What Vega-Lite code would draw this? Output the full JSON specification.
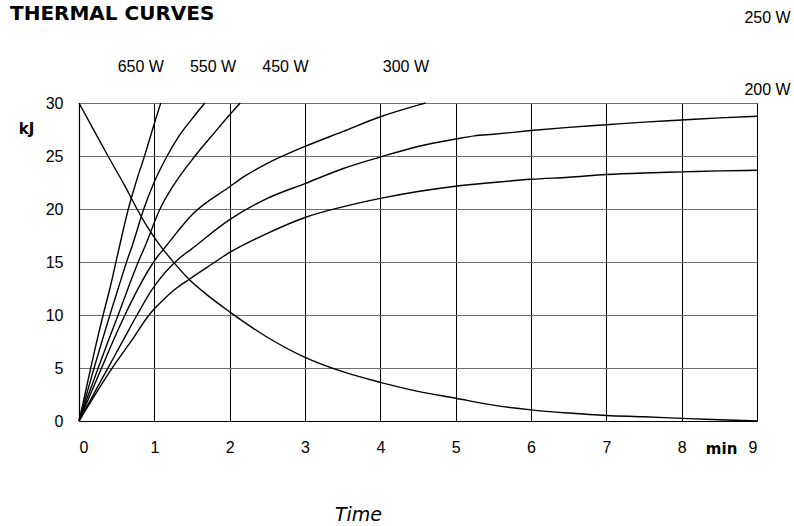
{
  "$schema": "https://vega.github.io/schema/vega-lite/v6.json",
  "width": 678,
  "height": 318,
  "autosize": {"type": "none"},
  "padding": {"left": 79, "top": 103, "right": 37, "bottom": 105},
  "background": "white",
  "config": {
    "view": {"stroke": "#000", "strokeWidth": 1},
    "font": "Liberation Sans"
  },
  "datasets": {
    "curves": [
      {"s": "650 W", "t": 0, "kJ": 0}, {"s": "650 W", "t": 0.1, "kJ": 3.2}, {"s": "650 W", "t": 0.2, "kJ": 6.4}, {"s": "650 W", "t": 0.32, "kJ": 10}, {"s": "650 W", "t": 0.41, "kJ": 12.5}, {"s": "650 W", "t": 0.5, "kJ": 15.3}, {"s": "650 W", "t": 0.655, "kJ": 20}, {"s": "650 W", "t": 0.76, "kJ": 22.6}, {"s": "650 W", "t": 0.87, "kJ": 25}, {"s": "650 W", "t": 0.98, "kJ": 27.6}, {"s": "650 W", "t": 1.085, "kJ": 30},
      {"s": "550 W", "t": 0, "kJ": 0}, {"s": "550 W", "t": 0.1, "kJ": 2.5}, {"s": "550 W", "t": 0.2, "kJ": 5}, {"s": "550 W", "t": 0.3, "kJ": 7.4}, {"s": "550 W", "t": 0.41, "kJ": 10}, {"s": "550 W", "t": 0.52, "kJ": 12.5}, {"s": "550 W", "t": 0.655, "kJ": 15.5}, {"s": "550 W", "t": 0.7, "kJ": 16.4}, {"s": "550 W", "t": 0.86, "kJ": 20}, {"s": "550 W", "t": 0.99, "kJ": 22.4}, {"s": "550 W", "t": 1.17, "kJ": 25}, {"s": "550 W", "t": 1.32, "kJ": 26.8}, {"s": "550 W", "t": 1.5, "kJ": 28.5}, {"s": "550 W", "t": 1.67, "kJ": 30},
      {"s": "450 W", "t": 0, "kJ": 0}, {"s": "450 W", "t": 0.1, "kJ": 2}, {"s": "450 W", "t": 0.25, "kJ": 4.9}, {"s": "450 W", "t": 0.38, "kJ": 7.4}, {"s": "450 W", "t": 0.52, "kJ": 10}, {"s": "450 W", "t": 0.65, "kJ": 12.5}, {"s": "450 W", "t": 0.81, "kJ": 15.4}, {"s": "450 W", "t": 0.86, "kJ": 16.2}, {"s": "450 W", "t": 1.075, "kJ": 20}, {"s": "450 W", "t": 1.27, "kJ": 22.4}, {"s": "450 W", "t": 1.54, "kJ": 25}, {"s": "450 W", "t": 1.81, "kJ": 27.3}, {"s": "450 W", "t": 1.94, "kJ": 28.4}, {"s": "450 W", "t": 2.14, "kJ": 30},
      {"s": "300 W", "t": 0, "kJ": 0}, {"s": "300 W", "t": 0.15, "kJ": 2.5}, {"s": "300 W", "t": 0.3, "kJ": 5}, {"s": "300 W", "t": 0.45, "kJ": 7.5}, {"s": "300 W", "t": 0.61, "kJ": 10}, {"s": "300 W", "t": 0.77, "kJ": 12.3}, {"s": "300 W", "t": 1.03, "kJ": 15.4}, {"s": "300 W", "t": 1.11, "kJ": 16.1}, {"s": "300 W", "t": 1.52, "kJ": 19.6}, {"s": "300 W", "t": 2.0, "kJ": 22.1}, {"s": "300 W", "t": 2.2, "kJ": 23.1}, {"s": "300 W", "t": 2.5, "kJ": 24.3}, {"s": "300 W", "t": 3.0, "kJ": 25.9}, {"s": "300 W", "t": 3.5, "kJ": 27.3}, {"s": "300 W", "t": 4.0, "kJ": 28.7}, {"s": "300 W", "t": 4.5, "kJ": 29.8}, {"s": "300 W", "t": 4.6, "kJ": 30},
      {"s": "250 W", "t": 0, "kJ": 0}, {"s": "250 W", "t": 0.2, "kJ": 2.6}, {"s": "250 W", "t": 0.4, "kJ": 5.2}, {"s": "250 W", "t": 0.6, "kJ": 7.8}, {"s": "250 W", "t": 0.77, "kJ": 10}, {"s": "250 W", "t": 0.96, "kJ": 12.3}, {"s": "250 W", "t": 1.34, "kJ": 15.4}, {"s": "250 W", "t": 1.47, "kJ": 16.1}, {"s": "250 W", "t": 2.0, "kJ": 19.0}, {"s": "250 W", "t": 2.5, "kJ": 21.0}, {"s": "250 W", "t": 3.0, "kJ": 22.4}, {"s": "250 W", "t": 3.5, "kJ": 23.8}, {"s": "250 W", "t": 4.0, "kJ": 24.9}, {"s": "250 W", "t": 4.5, "kJ": 25.9}, {"s": "250 W", "t": 5.0, "kJ": 26.6}, {"s": "250 W", "t": 5.25, "kJ": 26.9}, {"s": "250 W", "t": 5.5, "kJ": 27.05}, {"s": "250 W", "t": 6.0, "kJ": 27.4}, {"s": "250 W", "t": 6.5, "kJ": 27.7}, {"s": "250 W", "t": 7.0, "kJ": 27.95}, {"s": "250 W", "t": 7.5, "kJ": 28.2}, {"s": "250 W", "t": 8.0, "kJ": 28.4}, {"s": "250 W", "t": 8.5, "kJ": 28.6}, {"s": "250 W", "t": 9.0, "kJ": 28.75},
      {"s": "200 W", "t": 0, "kJ": 0}, {"s": "200 W", "t": 0.25, "kJ": 2.9}, {"s": "200 W", "t": 0.46, "kJ": 5.2}, {"s": "200 W", "t": 0.7, "kJ": 7.6}, {"s": "200 W", "t": 0.94, "kJ": 10.1}, {"s": "200 W", "t": 1.1, "kJ": 11.3}, {"s": "200 W", "t": 1.27, "kJ": 12.4}, {"s": "200 W", "t": 1.47, "kJ": 13.4}, {"s": "200 W", "t": 1.7, "kJ": 14.5}, {"s": "200 W", "t": 1.9, "kJ": 15.45}, {"s": "200 W", "t": 2.0, "kJ": 15.9}, {"s": "200 W", "t": 2.5, "kJ": 17.7}, {"s": "200 W", "t": 3.0, "kJ": 19.2}, {"s": "200 W", "t": 3.5, "kJ": 20.2}, {"s": "200 W", "t": 4.0, "kJ": 21.0}, {"s": "200 W", "t": 4.5, "kJ": 21.65}, {"s": "200 W", "t": 5.0, "kJ": 22.15}, {"s": "200 W", "t": 5.5, "kJ": 22.5}, {"s": "200 W", "t": 6.0, "kJ": 22.8}, {"s": "200 W", "t": 6.5, "kJ": 23.0}, {"s": "200 W", "t": 7.0, "kJ": 23.25}, {"s": "200 W", "t": 7.5, "kJ": 23.4}, {"s": "200 W", "t": 8.0, "kJ": 23.5}, {"s": "200 W", "t": 8.5, "kJ": 23.6}, {"s": "200 W", "t": 9.0, "kJ": 23.65},
      {"s": "cooling", "t": 0, "kJ": 30}, {"s": "cooling", "t": 0.2, "kJ": 27.4}, {"s": "cooling", "t": 0.385, "kJ": 25}, {"s": "cooling", "t": 0.48, "kJ": 23.8}, {"s": "cooling", "t": 0.6, "kJ": 22.3}, {"s": "cooling", "t": 0.77, "kJ": 20}, {"s": "cooling", "t": 0.9, "kJ": 18.4}, {"s": "cooling", "t": 1.05, "kJ": 16.8}, {"s": "cooling", "t": 1.23, "kJ": 15.2}, {"s": "cooling", "t": 1.47, "kJ": 13.3}, {"s": "cooling", "t": 1.7, "kJ": 11.9}, {"s": "cooling", "t": 2.0, "kJ": 10.3}, {"s": "cooling", "t": 2.5, "kJ": 7.9}, {"s": "cooling", "t": 3.0, "kJ": 6.0}, {"s": "cooling", "t": 3.5, "kJ": 4.65}, {"s": "cooling", "t": 4.0, "kJ": 3.65}, {"s": "cooling", "t": 4.5, "kJ": 2.8}, {"s": "cooling", "t": 5.0, "kJ": 2.15}, {"s": "cooling", "t": 5.5, "kJ": 1.5}, {"s": "cooling", "t": 6.0, "kJ": 1.05}, {"s": "cooling", "t": 6.5, "kJ": 0.75}, {"s": "cooling", "t": 7.0, "kJ": 0.52}, {"s": "cooling", "t": 7.5, "kJ": 0.4}, {"s": "cooling", "t": 8.0, "kJ": 0.25}, {"s": "cooling", "t": 8.5, "kJ": 0.12}, {"s": "cooling", "t": 9.0, "kJ": 0}
    ],
    "wlabels": [
      {"label": "650 W", "t": 0.82, "kJ": 33.4},
      {"label": "550 W", "t": 1.78, "kJ": 33.4},
      {"label": "450 W", "t": 2.74, "kJ": 33.4},
      {"label": "300 W", "t": 4.34, "kJ": 33.4},
      {"label": "250 W", "t": 9.14, "kJ": 38.0},
      {"label": "200 W", "t": 9.14, "kJ": 31.2}
    ],
    "unit": [{"label": "min", "t": 8.53, "kJ": -2.6}],
    "heading": [{"label": "THERMAL CURVES", "t": -0.916, "kJ": 37.8}]
  },
  "layer": [
    {
      "data": {"name": "curves"},
      "mark": {"type": "line", "color": "#000", "strokeWidth": 1.4, "interpolate": "monotone"},
      "encoding": {
        "x": {
          "field": "t", "type": "quantitative",
          "scale": {"domain": [0, 9], "nice": false, "zero": false},
          "axis": {
            "values": [0, 0.5, 1, 1.5, 2, 2.5, 3, 3.5, 4, 4.5, 5, 5.5, 6, 6.5, 7, 7.5, 8, 8.5, 9],
            "labelExpr": "datum.value % 1 == 0 ? format(datum.value, 'd') : ''",
            "grid": true, "gridColor": "#000", "gridOpacity": 1, "gridWidth": 1,
            "ticks": false, "domain": true, "domainColor": "#000", "domainWidth": 1.2,
            "labelFont": "Liberation Sans", "labelFontSize": 16, "labelColor": "#000", "labelPadding": 18,
            "title": "Time", "titleFont": "DejaVu Sans", "titleFontStyle": "italic", "titleFontWeight": "normal",
            "titleFontSize": 19, "titleColor": "#000", "titleX": 279, "titleY": 99,
            "titleAlign": "center", "titleBaseline": "alphabetic"
          }
        },
        "y": {
          "field": "kJ", "type": "quantitative",
          "scale": {"domain": [0, 30], "nice": false},
          "axis": {
            "values": [0, 5, 10, 15, 20, 25, 30],
            "grid": true, "gridColor": "#6e6e6e", "gridOpacity": 1, "gridWidth": 1.2,
            "ticks": false, "domain": true, "domainColor": "#000", "domainWidth": 1.2,
            "labelFont": "Liberation Sans", "labelFontSize": 16, "labelColor": "#000", "labelPadding": 16,
            "title": "kJ", "titleFont": "DejaVu Sans", "titleFontWeight": "bold", "titleFontSize": 15,
            "titleColor": "#000", "titleAngle": 0, "titleX": -53, "titleY": 25,
            "titleAlign": "center", "titleBaseline": "middle"
          }
        },
        "detail": {"field": "s", "type": "nominal"}
      }
    },
    {
      "data": {"name": "wlabels"},
      "mark": {"type": "text", "font": "Liberation Sans", "fontSize": 16, "color": "#000", "align": "center", "baseline": "middle"},
      "encoding": {
        "x": {"field": "t", "type": "quantitative"},
        "y": {"field": "kJ", "type": "quantitative"},
        "text": {"field": "label"}
      }
    },
    {
      "data": {"name": "unit"},
      "mark": {"type": "text", "font": "DejaVu Sans", "fontWeight": "bold", "fontSize": 15, "color": "#000", "align": "center", "baseline": "middle"},
      "encoding": {
        "x": {"field": "t", "type": "quantitative"},
        "y": {"field": "kJ", "type": "quantitative"},
        "text": {"field": "label"}
      }
    },
    {
      "data": {"name": "heading"},
      "mark": {"type": "text", "font": "DejaVu Sans", "fontWeight": "bold", "fontSize": 20, "color": "#000", "align": "left", "baseline": "alphabetic"},
      "encoding": {
        "x": {"field": "t", "type": "quantitative"},
        "y": {"field": "kJ", "type": "quantitative"},
        "text": {"field": "label"}
      }
    }
  ]
}
